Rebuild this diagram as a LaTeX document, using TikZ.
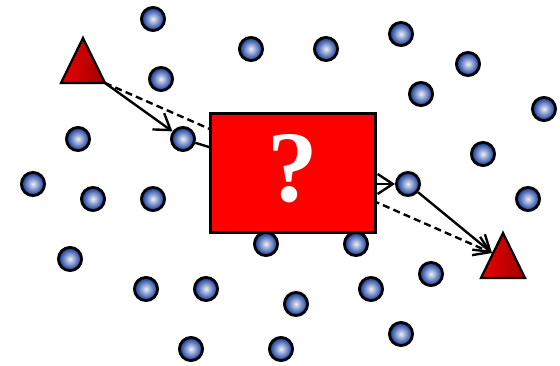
\documentclass[tikz,border=0pt]{standalone}
\usepackage{fontspec}
\usepackage{tikz}
\usetikzlibrary{arrows.meta,positioning,shapes.geometric}
\newfontfamily\markfont{Liberation Serif}
\definecolor{ballblue}{RGB}{10,50,150}
\definecolor{boxred}{RGB}{255,0,0}
\definecolor{trired}{RGB}{235,0,0}
\definecolor{darkred}{RGB}{160,0,0}
\tikzset{
  ball/.style={circle,draw=black,line width=2pt,minimum size=5.8mm,inner sep=0pt,
    shading=radial,inner color=white!92!ballblue,outer color=ballblue},
  endpoint/.style={draw=black,line width=1.6pt,left color=trired,right color=darkred,
    line join=miter},
  route/.style={line width=1.7pt,-{Straight Barb[length=3.8mm,width=5mm,line width=1.7pt]}},
}
\begin{document}
\begin{tikzpicture}[x=0.25mm,y=-0.25mm]
        \useasboundingbox (0,0) rectangle (560,366);
        % scattered relay nodes
        \foreach \x/\y [count=\i] in {
          153/19, 251/49, 326/49, 401/34, 468/64, 161/79, 421/94, 544/109,
          78/139, 483/154, 33/184, 93/199, 153/199, 528/199,
          266/244, 356/244, 70/259, 146/289, 206/289, 296/304, 371/289,
        431/274, 401/334, 191/349, 281/349}{
          \node[ball] (n\i) at (\x,\y) {};
        }
        \node[ball] (hopa) at (183,139) {};
        \node[ball] (hopb) at (408,184) {};
        % source and sink
        \shade[endpoint] (83,38) -- (105,83) -- (61,83) -- cycle;
        \shade[endpoint] (503,233) -- (525,278) -- (481,278) -- cycle;
        \coordinate (srcout) at (105,83);
        \coordinate (dstin) at (492,253);
        % direct path and routed path
        \draw[route,dash pattern=on 5pt off 3pt] (srcout) -- (dstin);
        \draw[route] (srcout) -- (hopa);
        \draw[line width=1.7pt] (hopa) -- (293,173);
        \draw[route] (hopb) -- (dstin);
        \node[draw=black,line width=1.7pt,fill=boxred,minimum width=41.3mm,minimum height=29.8mm,
          inner sep=0pt] (box) at (293,173) {};
        \node[white,font=\markfont\bfseries\fontsize{72}{72}\selectfont] at ([yshift=1mm]box) {?};
        \draw[route] (box.east |- hopb) -- (hopb);
      \end{tikzpicture}
\end{document}
